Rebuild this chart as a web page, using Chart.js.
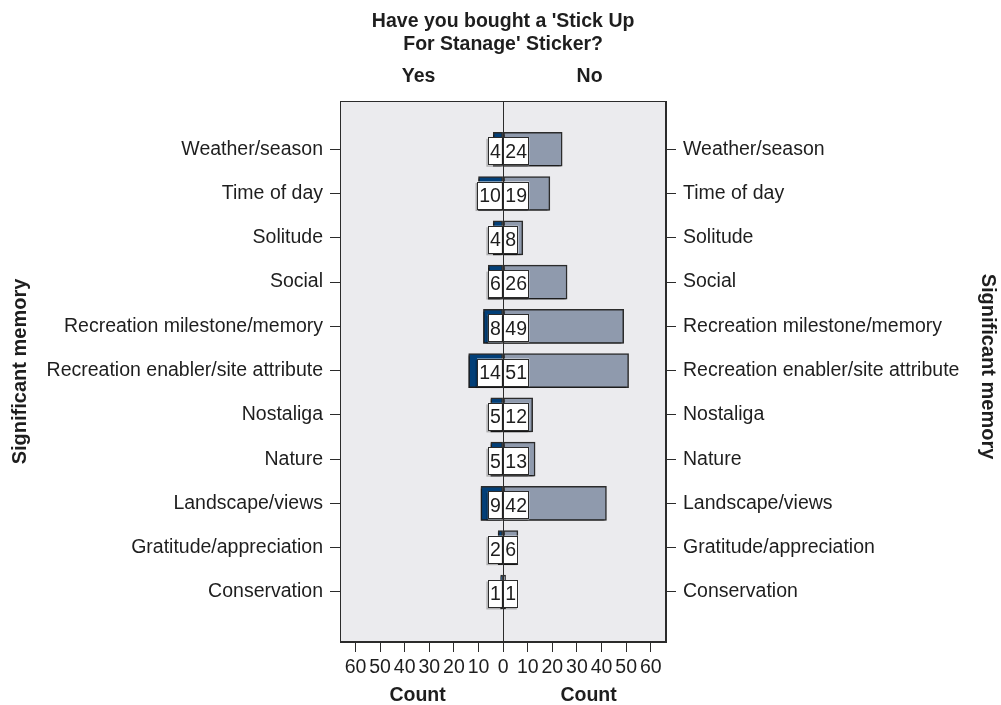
<!DOCTYPE html>
<html>
<head>
<meta charset="utf-8">
<title>Significant memory by sticker purchase</title>
<script src="https://cdn.jsdelivr.net/npm/chart.js@4.4.1/dist/chart.umd.min.js"></script>
<style>
  html, body { margin: 0; padding: 0; background: #fff; }
  #wrap { width: 1001px; height: 705px; position: relative; }
</style>
</head>
<body>
<div id="wrap"><canvas id="chart"></canvas></div>
<script>
// ── Data ─────────────────────────────────────────────
const categories = [
  'Weather/season', 'Time of day', 'Solitude', 'Social',
  'Recreation milestone/memory', 'Recreation enabler/site attribute',
  'Nostaliga', 'Nature', 'Landscape/views', 'Gratitude/appreciation', 'Conservation'
];
const yesCounts = [4, 10, 4, 6, 8, 14, 5, 5, 9, 2, 1];
const noCounts  = [24, 19, 8, 26, 49, 51, 12, 13, 42, 6, 1];
const countTicks = [-60, -50, -40, -30, -20, -10, 0, 10, 20, 30, 40, 50, 60];

const FONT    = "'Liberation Sans', Arial, Helvetica, sans-serif";
const TEXT    = '#1e1e1e';
const EDGE    = '#2b2b2b';
const YES_COL = '#023f78';
const NO_COL  = '#8f9aad';
const PANEL   = '#ebebee';

// ── Panel background + frame ─────────────────────────
const panelPlugin = {
  id: 'panel',
  beforeDraw(chart) {
    const { ctx, chartArea: a } = chart;
    ctx.save();
    ctx.fillStyle = PANEL;
    ctx.fillRect(a.left, a.top, a.right - a.left, a.bottom - a.top);
    ctx.restore();
  },
  // light drop shadow under the bars, like the original
  beforeDatasetsDraw(chart) {
    const ctx = chart.ctx;
    ctx.save();
    ctx.shadowColor = 'rgba(0,0,0,0.35)';
    ctx.shadowOffsetX = -1.5;
    ctx.shadowOffsetY = 1.5;
    ctx.shadowBlur = 0;
  },
  afterDatasetsDraw(chart) {
    chart.ctx.restore();
  },
  afterDraw(chart) {
    const { ctx, chartArea: a } = chart;
    ctx.save();
    ctx.strokeStyle = EDGE;
    ctx.lineWidth = 1;
    ctx.strokeRect(a.left + 0.5, a.top + 0.5, a.right - a.left - 1, a.bottom - a.top - 1);
    ctx.restore();
  }
};

// ── Count boxes at the centre line ───────────────────
const boxPlugin = {
  id: 'boxes',
  afterDatasetsDraw(chart) {
    const { ctx, scales } = chart;
    const x0 = scales.x.getPixelForValue(0);
    ctx.save();
    ctx.shadowColor = 'transparent';
    ctx.font = '19.5px ' + FONT;
    ctx.textBaseline = 'middle';
    const h = 28, pad = 2.2;
    categories.forEach((c, i) => {
      const yc = scales.y.getPixelForValue(i) + 2;
      const parts = [
        { txt: String(yesCounts[i]), side: -1 },
        { txt: String(noCounts[i]),  side: 1 }
      ];
      parts.forEach(p => {
        const w = ctx.measureText(p.txt).width + pad * 2;
        const left = p.side < 0 ? x0 - w : x0;
        ctx.fillStyle = 'rgba(0,0,0,0.25)';
        ctx.fillRect(left - 1.5, yc - h / 2 + 1.5, w, h);
        ctx.fillStyle = '#fff';
        ctx.fillRect(left, yc - h / 2, w, h);
        ctx.strokeStyle = EDGE;
        ctx.lineWidth = 1;
        ctx.strokeRect(Math.round(left) + 0.5, Math.round(yc - h / 2) + 0.5, Math.round(w) - 1, h - 1);
        ctx.fillStyle = TEXT;
        ctx.textAlign = 'center';
        ctx.fillText(p.txt, left + w / 2, yc + 1);
      });
    });
    // centre line
    ctx.strokeStyle = EDGE;
    ctx.beginPath();
    ctx.moveTo(Math.round(x0) + 0.5, chart.chartArea.top);
    ctx.lineTo(Math.round(x0) + 0.5, chart.chartArea.bottom);
    ctx.stroke();
    ctx.restore();
  }
};

// ── Titles and side labels ───────────────────────────
const textPlugin = {
  id: 'texts',
  afterDraw(chart) {
    const { ctx, scales, chartArea: a } = chart;
    const x0 = scales.x.getPixelForValue(0);
    const midL = (a.left + x0) / 2;
    const midR = (x0 + a.right) / 2;
    const midY = (a.top + a.bottom) / 2;
    ctx.save();
    ctx.fillStyle = TEXT;
    ctx.textAlign = 'center';
    ctx.textBaseline = 'middle';
    ctx.font = 'bold 19.5px ' + FONT;
    ctx.fillText("Have you bought a 'Stick Up", x0, 22);
    ctx.fillText("For Stanage' Sticker?", x0, 45);
    ctx.fillText('Yes', midL - 3, 77);
    ctx.fillText('No', midR + 5, 77);
    ctx.fillText('Count', midL - 4, 696);
    ctx.fillText('Count', midR + 4, 696);

    ctx.font = 'bold 20px ' + FONT;
    ctx.save();
    ctx.translate(20, midY);
    ctx.rotate(-Math.PI / 2);
    ctx.fillText('Significant memory', 0, 0);
    ctx.restore();
    ctx.save();
    ctx.translate(988, midY - 5);
    ctx.rotate(Math.PI / 2);
    ctx.fillText('Significant memory', 0, 0);
    ctx.restore();
    ctx.restore();
  }
};

function categoryAxis(position, width) {
  return {
    type: 'linear',
    position,
    min: -1.09,
    max: 11.13,
    reverse: true,
    offset: false,
    afterBuildTicks: s => { s.ticks = categories.map((_, i) => ({ value: i })); },
    afterFit: s => { s.width = width; },
    grid: { offset: false, drawOnChartArea: false, drawTicks: true, tickLength: 10, tickColor: EDGE, tickWidth: 1 },
    border: { display: true, color: EDGE },
    ticks: {
      autoSkip: false,
      padding: 7,
      color: TEXT,
      font: { family: FONT, size: 19.5 },
      callback: v => categories[v] ?? ''
    }
  };
}

new Chart(document.getElementById('chart'), {
  type: 'bar',
  data: {
    datasets: [
      {
        label: 'Yes',
        data: yesCounts.map((v, i) => ({ x: -v, y: i })),
        backgroundColor: YES_COL,
        borderColor: EDGE,
        borderWidth: 1.5,
        borderSkipped: false,
        barThickness: 34
      },
      {
        label: 'No',
        data: noCounts.map((v, i) => ({ x: v, y: i })),
        backgroundColor: NO_COL,
        borderColor: EDGE,
        borderWidth: 1.5,
        borderSkipped: false,
        barThickness: 34
      }
    ]
  },
  options: {
    responsive: true,
    maintainAspectRatio: false,
    animation: false,
    indexAxis: 'y',
    layout: { padding: { top: 101, left: 0, right: 0, bottom: 0 } },
    plugins: { legend: { display: false }, tooltip: { enabled: false }, title: { display: false } },
    scales: {
      x: {
        type: 'linear',
        stacked: true,
        min: -66.3,
        max: 66.2,
        afterBuildTicks: s => { s.ticks = countTicks.map(v => ({ value: v })); },
        afterFit: s => { s.height = 63; },
        grid: { drawOnChartArea: false, drawTicks: true, tickLength: 10, tickColor: EDGE },
        border: { display: true, color: EDGE },
        ticks: {
          autoSkip: false,
          maxRotation: 0,
          padding: 4,
          color: TEXT,
          font: { family: FONT, size: 19.5 },
          callback: v => Math.abs(v)
        }
      },
      y: Object.assign(categoryAxis('left', 340), { stacked: true }),
      y2: categoryAxis('right', 335)
    }
  },
  plugins: [panelPlugin, boxPlugin, textPlugin]
});
</script>
</body>
</html>
